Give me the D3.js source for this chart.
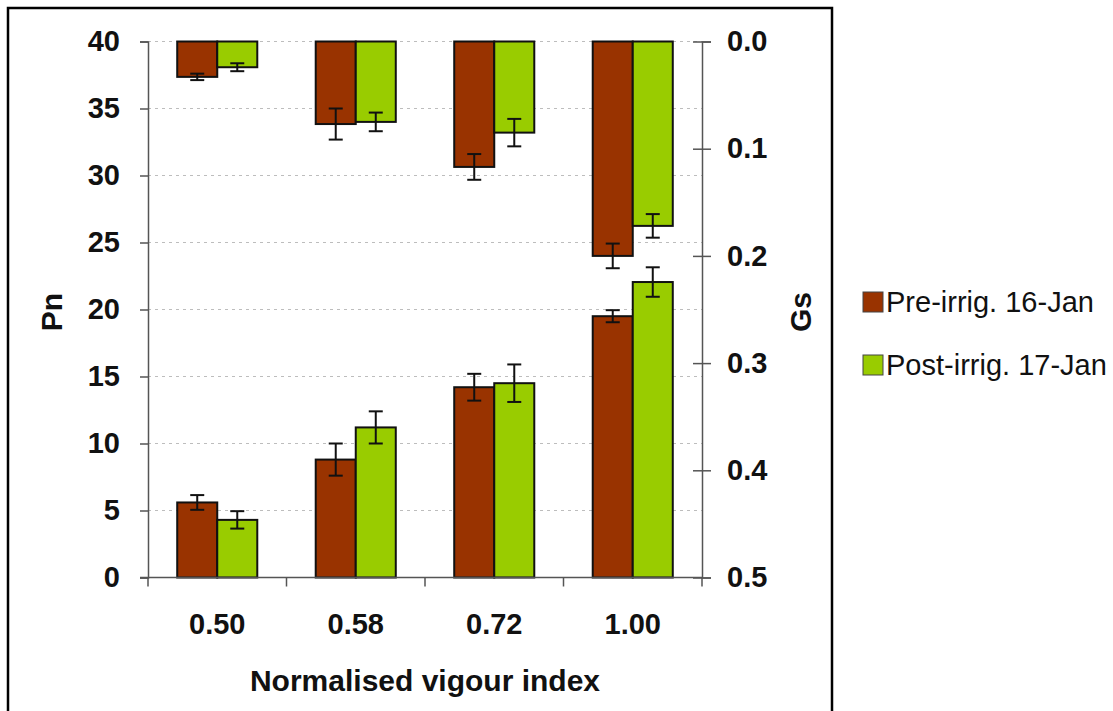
<!DOCTYPE html>
<html>
<head>
<meta charset="utf-8">
<script src="https://cdn.jsdelivr.net/npm/d3@7"></script>
<style>
  body { margin: 0; background: #fff; }
  svg { font-family: "Liberation Sans", Arial, sans-serif; }
</style>
</head>
<body>
<div id="chart"></div>
<script>
/* data */
const categories = ["0.50", "0.58", "0.72", "1.00"];
const series = ["Pre-irrig. 16-Jan", "Post-irrig. 17-Jan"];

// Pn, bars standing on the bottom axis
const pnPre = [5.6, 8.8, 14.2, 19.5];
const pnPreErr = [0.55, 1.2, 1.0, 0.45];
const pnPost = [4.3, 11.2, 14.5, 22.05];
const pnPostErr = [0.65, 1.2, 1.4, 1.1];

// Gs, bars hanging from the top (reversed right axis)
const gsPre = [0.033, 0.077, 0.117, 0.200];
const gsPreErr = [0.003, 0.0145, 0.012, 0.0115];
const gsPost = [0.024, 0.075, 0.085, 0.172];
const gsPostErr = [0.0037, 0.0087, 0.0128, 0.011];

const pnTicks = [0, 5, 10, 15, 20, 25, 30, 35, 40];
const gsTicks = [0, 0.1, 0.2, 0.3, 0.4, 0.5];

const colors = { pre: "#993300", post: "#99cc00" };

/* layout */
var W = 1113, H = 711;
var plot = { left: 148, right: 702, top: 41.5, bottom: 577.5 };

var svg = d3.select("#chart").append("svg")
    .attr("width", W)
    .attr("height", H);

// outer frame
svg.append("rect")
    .attr("x", 8).attr("y", 8)
    .attr("width", 824).attr("height", 730)
    .attr("fill", "none")
    .attr("stroke", "#000")
    .attr("stroke-width", 2.5);

/* scales */
var x0 = d3.scaleBand()
    .domain(categories)
    .range([plot.left, plot.right]);

var x1 = d3.scaleBand()
    .domain(["pre", "post"])
    .range([0, x0.bandwidth()])
    .paddingOuter(0.73);

var yPn = d3.scaleLinear()
    .domain([0, 40])
    .range([plot.bottom, plot.top]);

var yGs = d3.scaleLinear()
    .domain([0, 0.5])
    .range([plot.top, plot.bottom]);

// dashed gridlines
svg.append("g")
    .selectAll("line")
    .data(pnTicks.filter(d => d > 0))
    .enter().append("line")
    .attr("x1", plot.left).attr("x2", plot.right)
    .attr("y1", d => yPn(d)).attr("y2", d => yPn(d))
    .attr("stroke", "#bdbdbd")
    .attr("stroke-width", 1)
    .attr("stroke-dasharray", "3,4");

/* bars */
var pnRows = categories.map((c, i) => ({ cat: c, pre: pnPre[i], post: pnPost[i], preErr: pnPreErr[i], postErr: pnPostErr[i] }));
var gsRows = categories.map((c, i) => ({ cat: c, pre: gsPre[i], post: gsPost[i], preErr: gsPreErr[i], postErr: gsPostErr[i] }));

function flat(rows) {
    var out = [];
    rows.forEach(r => {
        out.push({ cat: r.cat, key: "pre", v: r.pre, e: r.preErr });
        out.push({ cat: r.cat, key: "post", v: r.post, e: r.postErr });
    });
    return out;
}

var pnBars = flat(pnRows);
var gsBars = flat(gsRows);

svg.append("g")
    .selectAll("rect")
    .data(pnBars)
    .enter().append("rect")
    .attr("x", d => x0(d.cat) + x1(d.key))
    .attr("width", x1.bandwidth())
    .attr("y", d => yPn(d.v))
    .attr("height", d => yPn(0) - yPn(d.v))
    .attr("fill", d => colors[d.key])
    .attr("stroke", "#111")
    .attr("stroke-width", 2);

svg.append("g")
    .selectAll("rect")
    .data(gsBars)
    .enter().append("rect")
    .attr("x", d => x0(d.cat) + x1(d.key))
    .attr("width", x1.bandwidth())
    .attr("y", yGs(0))
    .attr("height", d => yGs(d.v) - yGs(0))
    .attr("fill", d => colors[d.key])
    .attr("stroke", "#111")
    .attr("stroke-width", 2);

/* error bars */
function errorBars(data, y) {
    var g = svg.append("g")
        .attr("stroke", "#111")
        .attr("stroke-width", 2);
    var cap = 7;
    var cx = d => x0(d.cat) + x1(d.key) + x1.bandwidth() / 2;
    g.selectAll(".stem")
        .data(data)
        .enter().append("line")
        .attr("x1", cx).attr("x2", cx)
        .attr("y1", d => y(d.v - d.e)).attr("y2", d => y(d.v + d.e));
    g.selectAll(".capHi")
        .data(data)
        .enter().append("line")
        .attr("x1", d => cx(d) - cap).attr("x2", d => cx(d) + cap)
        .attr("y1", d => y(d.v + d.e)).attr("y2", d => y(d.v + d.e));
    g.selectAll(".capLo")
        .data(data)
        .enter().append("line")
        .attr("x1", d => cx(d) - cap).attr("x2", d => cx(d) + cap)
        .attr("y1", d => y(d.v - d.e)).attr("y2", d => y(d.v - d.e));
}
errorBars(pnBars, yPn);
errorBars(gsBars, yGs);

/* axes */
var leftAxis = svg.append("g")
    .attr("transform", "translate(" + plot.left + ",0)")
    .call(d3.axisLeft(yPn).tickValues(pnTicks).tickSize(8).tickPadding(20).tickFormat(d3.format("d")));

var rightAxis = svg.append("g")
    .attr("transform", "translate(" + plot.right + ",0)")
    .call(d3.axisRight(yGs).tickValues(gsTicks).tickSize(9).tickPadding(16).tickFormat(d3.format(".1f")));
rightAxis.selectAll(".tick line").attr("x1", -9);

[leftAxis, rightAxis].forEach(a => {
    a.select(".domain").attr("stroke", "#555").attr("stroke-width", 1.5);
    a.selectAll(".tick line").attr("stroke", "#555").attr("stroke-width", 1.5);
    a.selectAll("text")
        .attr("font-family", "'Liberation Sans', Arial, sans-serif")
        .attr("font-size", 29)
        .attr("font-weight", "bold")
        .attr("fill", "#111");
});

// baseline of the category axis
svg.append("line")
    .attr("x1", plot.left - 8).attr("x2", plot.right)
    .attr("y1", plot.bottom).attr("y2", plot.bottom)
    .attr("stroke", "#555")
    .attr("stroke-width", 1.5);

// category separator ticks
var bounds = categories.map(c => x0(c)).concat([x0.range()[1]]);
svg.append("g")
    .selectAll("line")
    .data(bounds)
    .enter().append("line")
    .attr("x1", d => d).attr("x2", d => d)
    .attr("y1", plot.bottom).attr("y2", plot.bottom + 9)
    .attr("stroke", "#555")
    .attr("stroke-width", 1.5);

var bottomAxis = svg.append("g")
    .attr("transform", "translate(0," + plot.bottom + ")")
    .call(d3.axisBottom(x0).tickSize(0).tickPadding(36));
bottomAxis.select(".domain").remove();
bottomAxis.selectAll("text")
    .attr("font-family", "'Liberation Sans', Arial, sans-serif")
    .attr("font-size", 29)
    .attr("font-weight", "bold")
    .attr("fill", "#111");

/* axis titles */
svg.append("text")
    .attr("x", (plot.left + plot.right) / 2)
    .attr("y", 690.5)
    .attr("text-anchor", "middle")
    .attr("font-size", 30)
    .attr("font-weight", "bold")
    .attr("fill", "#111")
    .text("Normalised vigour index");

svg.append("text")
    .attr("transform", "translate(62,312) rotate(-90)")
    .attr("text-anchor", "middle")
    .attr("font-size", 30)
    .attr("font-weight", "bold")
    .attr("fill", "#111")
    .text("Pn");

svg.append("text")
    .attr("transform", "translate(811,312) rotate(-90)")
    .attr("text-anchor", "middle")
    .attr("font-size", 30)
    .attr("font-weight", "bold")
    .attr("fill", "#111")
    .text("Gs");

/* legend */
var legend = svg.append("g")
    .selectAll("g")
    .data(series)
    .enter().append("g")
    .attr("transform", (d, i) => "translate(863," + (292 + i * 63) + ")");

legend.append("rect")
    .attr("width", 20).attr("height", 20)
    .attr("fill", (d, i) => i === 0 ? colors.pre : colors.post)
    .attr("stroke", "#444")
    .attr("stroke-width", 1);

legend.append("text")
    .attr("x", 23)
    .attr("y", 20)
    .attr("font-size", 29)
    .attr("fill", "#111")
    .text(d => d);
</script>
</body>
</html>
